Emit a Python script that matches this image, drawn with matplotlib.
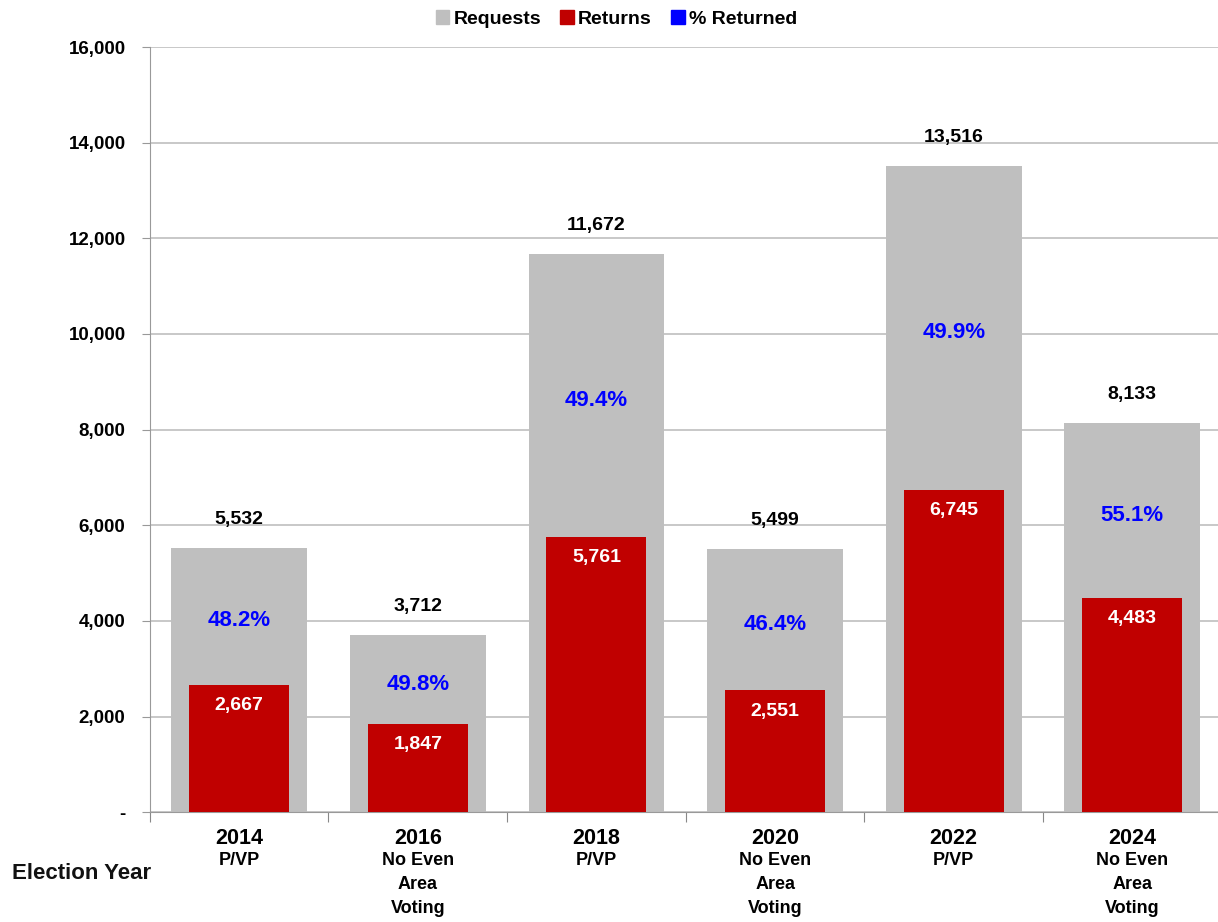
import numpy as np
import matplotlib
matplotlib.use("Agg")
import matplotlib.pyplot as plt
from matplotlib.patches import Patch
from matplotlib.ticker import FuncFormatter

plt.rcParams['font.family'] = ['Liberation Sans', 'DejaVu Sans']

years = ["2014", "2016", "2018", "2020", "2022", "2024"]
subs = ["P/VP", "No Even\nArea\nVoting", "P/VP", "No Even\nArea\nVoting", "P/VP", "No Even\nArea\nVoting"]
requests = [5532, 3712, 11672, 5499, 13516, 8133]
returns = [2667, 1847, 5761, 2551, 6745, 4483]
pct = [48.2, 49.8, 49.4, 46.4, 49.9, 55.1]

GRAY = "#bfbfbf"
RED = "#c00000"
BLUE = "#0000ff"

fig = plt.figure(figsize=(12.18, 9.22), dpi=100)
ax = fig.add_axes([0.123, 0.119, 0.88, 0.830])

x = np.arange(len(years))
ax.bar(x, requests, width=0.76, color=GRAY, zorder=2)
ax.bar(x, returns, width=0.56, color=RED, zorder=3)

for i in range(len(years)):
    ax.text(x[i], requests[i] + 420, f"{requests[i]:,}", ha="center", va="bottom",
            fontsize=14, fontweight="bold", color="black")
    ax.text(x[i], returns[i] - 440, f"{returns[i]:,}", ha="center", va="center",
            fontsize=14, fontweight="bold", color="white", zorder=4)
    ax.text(x[i], (requests[i] + returns[i]) / 2 - 100, f"{pct[i]:.1f}%", ha="center", va="center",
            fontsize=16, fontweight="bold", color=BLUE, zorder=4)

ax.set_xlim(-0.5, len(years) - 0.5)
ax.set_ylim(0, 16000)
ax.set_yticks(np.arange(0, 16001, 2000))
ax.yaxis.set_major_formatter(FuncFormatter(lambda v, p: "-" if v == 0 else f"{int(v):,}"))
ax.tick_params(axis="y", length=6, color="#999999", pad=11.5, labelsize=13.5)
for lbl in ax.get_yticklabels():
    lbl.set_fontweight("bold")

ax.set_xticks(np.arange(-0.5, len(years), 1.0))
ax.set_xticklabels([])
ax.tick_params(axis="x", length=7, color="#888888", direction="out")

ax.grid(axis="y", color="#bfbfbf", linewidth=1.2, zorder=0)
for s in ["top", "right"]:
    ax.spines[s].set_visible(False)
ax.spines["left"].set_color("#999999")
ax.spines["bottom"].set_color("#999999")

# category labels under the axis
for i in range(len(years)):
    ax.text(x[i], -320, years[i], ha="center", va="top", fontsize=15.5, fontweight="bold")
    ax.text(x[i], -820, subs[i], ha="center", va="top", fontsize=13, fontweight="bold",
            linespacing=1.55)

fig.text(0.010, 0.053, "Election Year", ha="left", va="center", fontsize=16, fontweight="bold",
         color="#111111")

handles = [Patch(color=GRAY, label="Requests"), Patch(color=RED, label="Returns"),
           Patch(color=BLUE, label="% Returned")]
leg = fig.legend(handles=handles, loc="upper center", bbox_to_anchor=(0.506, 1.008), ncol=3,
                 frameon=False, handlelength=0.7, handleheight=0.7, handletextpad=0.2,
                 columnspacing=1.0, prop={"weight": "bold", "size": 14})

fig.savefig("out.png", dpi=100)
